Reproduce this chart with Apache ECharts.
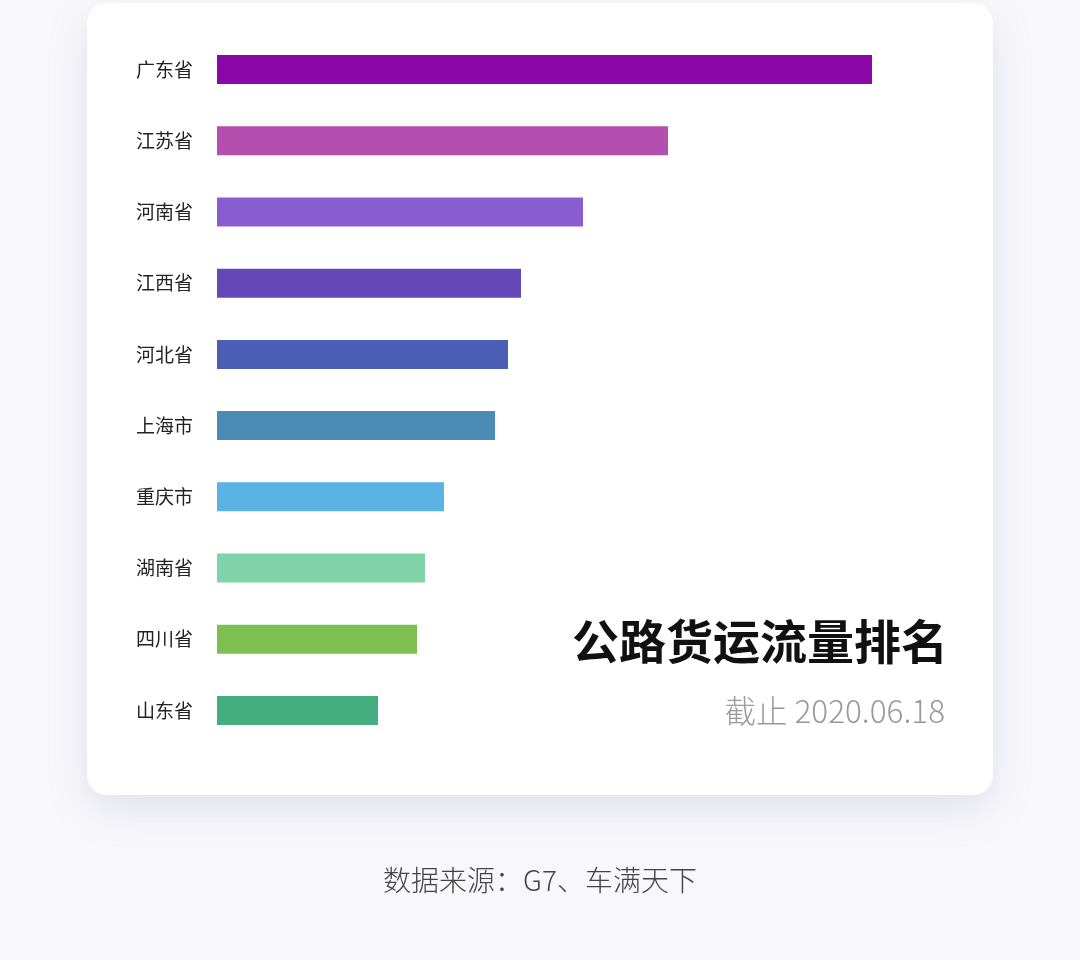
<!DOCTYPE html>
<html><head><meta charset="utf-8">
<script src="https://cdn.jsdelivr.net/npm/echarts@6/dist/echarts.min.js"></script>
<style>html,body{margin:0;padding:0;background:#f8f8fc;}#c{width:1080px;height:960px;}</style>
</head><body><div id="c"></div>
<script>
const provinces = ['广东省','江苏省','河南省','江西省','河北省','上海市','重庆市','湖南省','四川省','山东省'];
const values = [655, 451, 366, 304, 291, 278, 227, 208, 200, 161];
const barColors = ['#8a07a8','#b44fb0','#8a5cd1','#6647b8','#4b5fb4','#4b8bb6','#5ab3e4','#7fd3a6','#7dbf50','#45ae80'];
const titleText = '公路货运流量排名';
const subtitleText = '截止 2020.06.18';
const sourceText = '数据来源：G7、车满天下';

const font = '"Noto Sans CJK SC", "Noto Sans", sans-serif';
const chart = echarts.init(document.getElementById('c'), null, {renderer:'canvas'});
chart.setOption({
  backgroundColor: '#f8f8fc',
  animation: false,
  graphic: [
    { type:'rect', z:-10, shape:{x:87, y:3, width:906, height:792, r:20},
      style:{fill:'#ffffff', shadowBlur:40, shadowColor:'rgba(120,120,160,0.18)', shadowOffsetY:14} },
    { type:'text', right:132, top:618, z:10,
      style:{text:titleText, font:'bold 47px ' + font, fill:'#111111', textAlign:'right'} },
    { type:'text', right:135, top:695, z:10,
      style:{text:subtitleText, font:'300 31.5px ' + font, fill:'#999999', textAlign:'right'} },
    { type:'text', left:'center', top:866, z:10,
      style:{text:sourceText, font:'300 28px ' + font, fill:'#444444', textAlign:'center'} }
  ],
  grid: { left:217, width:728, top:34, height:712, containLabel:false },
  xAxis: { type:'value', min:0, max:728, show:false },
  yAxis: {
    type:'category', data:provinces, inverse:true,
    axisLine:{show:false}, axisTick:{show:false}, splitLine:{show:false},
    axisLabel:{ margin:24, fontSize:19, fontWeight:400, color:'#222222', fontFamily:font }
  },
  series: [{
    type:'bar', barWidth:29,
    data: values.map((v,i)=>({value:v, itemStyle:{color:barColors[i]}}))
  }]
});
</script></body></html>
